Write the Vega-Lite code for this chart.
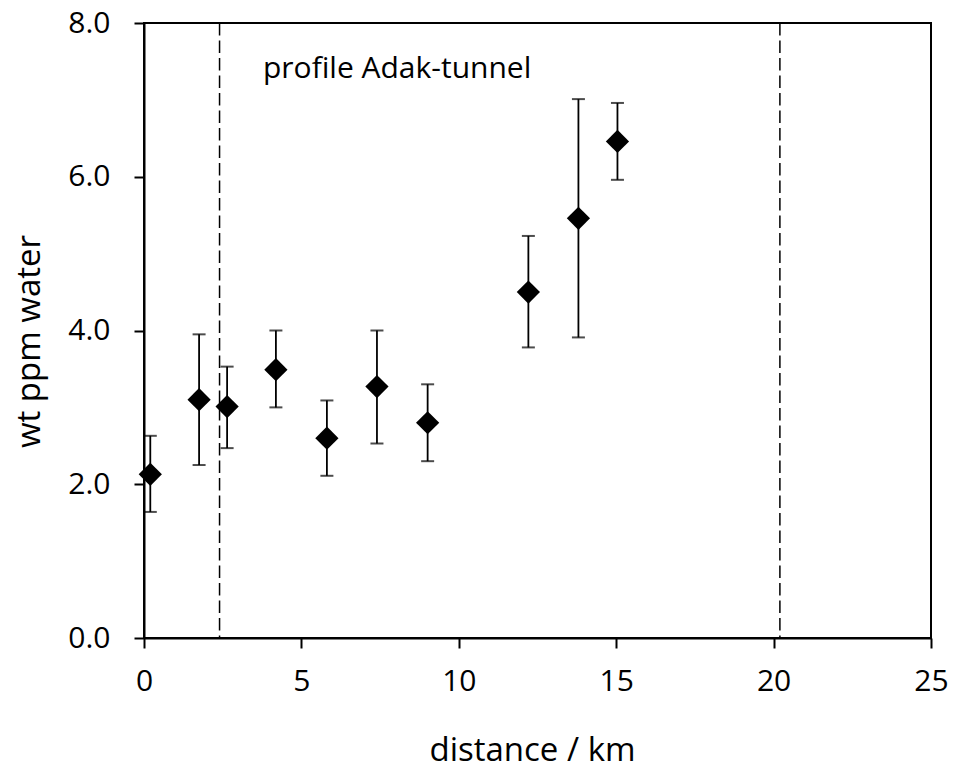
{
  "$schema": "https://vega.github.io/schema/vega-lite/v6.json",
  "width": 787,
  "height": 615,
  "autosize": "none",
  "padding": {"left": 144, "top": 23, "right": 23, "bottom": 133},
  "background": "white",
  "config": {
    "view": {"stroke": "black", "strokeWidth": 2},
    "font": "Open Sans",
    "axis": {
      "domainColor": "black", "domainWidth": 2,
      "tickColor": "black", "tickWidth": 2, "tickSize": 10,
      "grid": false, "labelFlush": false,
      "labelColor": "black", "titleColor": "black",
      "labelFont": "Open Sans", "titleFont": "Open Sans",
      "labelFontSize": 30, "titleFontSize": 33, "titleFontWeight": "normal"
    },
    "axisX": {"labelPadding": 18, "titleBaseline": "alphabetic", "titleY": 122, "titleX": 388},
    "axisY": {"labelPadding": 24, "titleBaseline": "alphabetic", "titleX": -105, "titleY": 318}
  },
  "datasets": {
    "pts": [
      {"d": 0.20, "w": 2.13, "lo": 1.64, "hi": 2.63},
      {"d": 1.75, "w": 3.10, "lo": 2.25, "hi": 3.95},
      {"d": 2.64, "w": 3.01, "lo": 2.47, "hi": 3.53},
      {"d": 4.19, "w": 3.49, "lo": 3.00, "hi": 4.00},
      {"d": 5.81, "w": 2.60, "lo": 2.11, "hi": 3.09},
      {"d": 7.40, "w": 3.27, "lo": 2.53, "hi": 4.00},
      {"d": 9.01, "w": 2.80, "lo": 2.30, "hi": 3.30},
      {"d": 12.21, "w": 4.50, "lo": 3.78, "hi": 5.23},
      {"d": 13.80, "w": 5.46, "lo": 3.91, "hi": 7.01},
      {"d": 15.04, "w": 6.46, "lo": 5.96, "hi": 6.96}
    ],
    "lines": [{"d": 2.40}, {"d": 20.20}],
    "note": [{"d": 3.78, "w": 7.28, "label": "profile Adak-tunnel"}]
  },
  "layer": [
    {
      "data": {"name": "lines"},
      "mark": {"type": "rule", "strokeDash": [12.5, 5], "strokeWidth": 1.5, "color": "black"},
      "encoding": {
        "x": {"field": "d", "type": "quantitative", "scale": {"domain": [0, 25], "nice": false, "zero": false},
              "axis": {"title": "distance / km", "values": [0, 5, 10, 15, 20, 25]}}
      }
    },
    {
      "data": {"name": "pts"},
      "mark": {"type": "errorbar", "ticks": {"size": 13, "thickness": 2, "color": "black"}, "rule": {"strokeWidth": 1.8, "color": "black"}},
      "encoding": {
        "x": {"field": "d", "type": "quantitative", "scale": {"domain": [0, 25], "nice": false, "zero": false},
              "axis": {"title": "distance / km", "values": [0, 5, 10, 15, 20, 25]}},
        "y": {"field": "lo", "type": "quantitative", "scale": {"domain": [0, 8], "nice": false},
              "axis": {"title": "wt ppm water", "values": [0, 2, 4, 6, 8], "format": ".1f"}},
        "y2": {"field": "hi"}
      }
    },
    {
      "data": {"name": "pts"},
      "mark": {"type": "point", "shape": "diamond", "filled": true, "size": 540, "color": "black", "opacity": 1},
      "encoding": {
        "x": {"field": "d", "type": "quantitative", "scale": {"domain": [0, 25], "nice": false, "zero": false},
              "axis": {"title": "distance / km", "values": [0, 5, 10, 15, 20, 25]}},
        "y": {"field": "w", "type": "quantitative", "scale": {"domain": [0, 8], "nice": false},
              "axis": {"title": "wt ppm water", "values": [0, 2, 4, 6, 8], "format": ".1f"}}
      }
    },
    {
      "data": {"name": "note"},
      "mark": {"type": "text", "align": "left", "baseline": "alphabetic", "font": "Open Sans", "fontSize": 30, "color": "black"},
      "encoding": {
        "x": {"field": "d", "type": "quantitative"},
        "y": {"field": "w", "type": "quantitative"},
        "text": {"field": "label"}
      }
    }
  ]
}
